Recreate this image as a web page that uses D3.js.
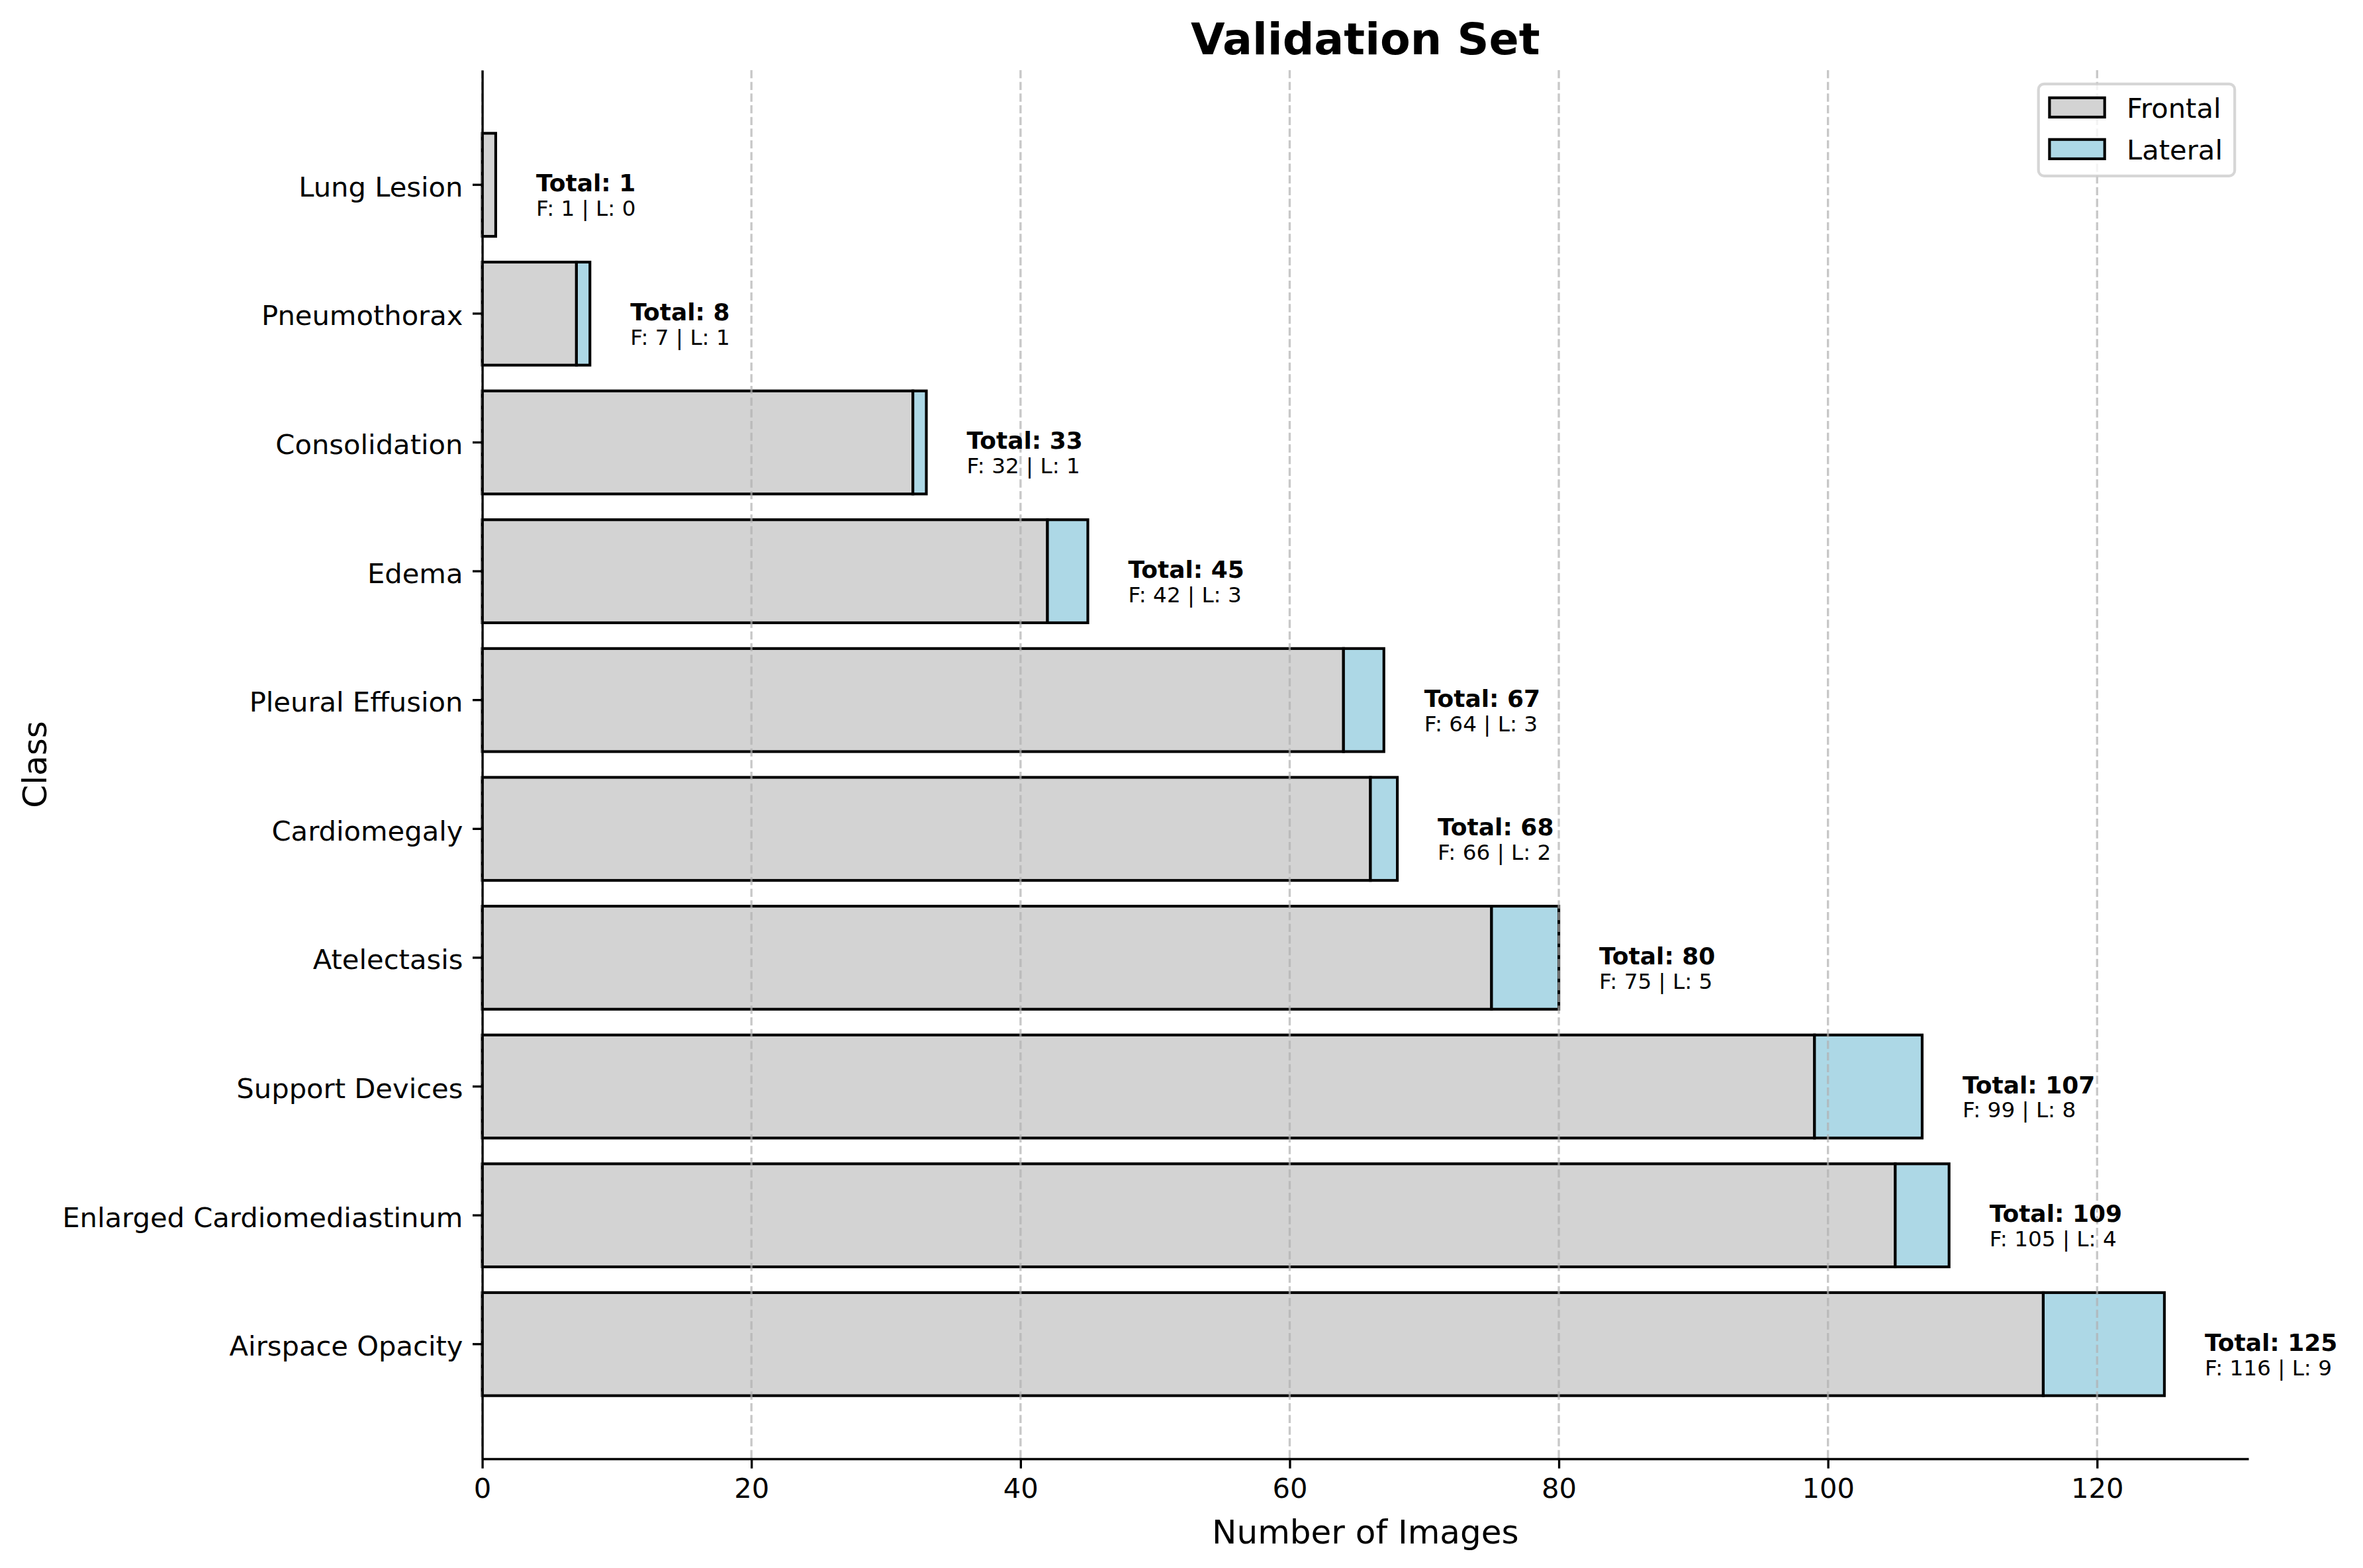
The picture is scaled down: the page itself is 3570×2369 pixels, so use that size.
<!DOCTYPE html>
<html><head><meta charset="utf-8">
<script src="https://cdn.jsdelivr.net/npm/d3@7"></script>
<style>
html,body{margin:0;padding:0;background:#fff;}
svg{display:block;}
text{font-family:"DejaVu Sans","Liberation Sans",sans-serif;fill:#000;}
</style>
</head><body>
<svg id="chart" width="3570" height="2369"></svg>
<script>
// ---- data ----
const categories = ["Lung Lesion","Pneumothorax","Consolidation","Edema","Pleural Effusion","Cardiomegaly","Atelectasis","Support Devices","Enlarged Cardiomediastinum","Airspace Opacity"];
const frontal = [1,7,32,42,64,66,75,99,105,116];
const lateral = [0,1,1,3,3,2,5,8,4,9];
const xTicks = [0,20,40,60,80,100,120];
const seriesNames = ["Frontal","Lateral"];
const seriesColors = ["#d3d3d3","#add8e6"];
const titleText = "Validation Set";
const xLabelText = "Number of Images";
const yLabelText = "Class";

(function(){
// ---- layout ----
const axL = 728.6, axR = 3397, axT = 106, axB = 2204;
const pt = 300/72;
const svg = d3.select("#chart");

const totals = frontal.map((f,i)=>f+lateral[i]);
const xMax = d3.max(totals)*1.05;
const x = d3.scaleLinear().domain([0,xMax]).range([axL,axR]);
const y = d3.scaleBand().domain(categories).range([axT,axB]).paddingInner(0.2).paddingOuter(0.49);

// bars: frontal then lateral
const gBars = svg.append("g");
gBars.selectAll("rect.frontal").data(categories).join("rect")
  .attr("class","frontal")
  .attr("x", x(0)).attr("y", d=>y(d))
  .attr("width", (d,i)=>x(frontal[i])-x(0))
  .attr("height", y.bandwidth())
  .attr("fill", seriesColors[0]).attr("stroke","#000").attr("stroke-width",1*pt);
gBars.selectAll("rect.lateral").data(categories).join("rect")
  .attr("class","lateral")
  .attr("x", (d,i)=>x(frontal[i])).attr("y", d=>y(d))
  .attr("width", (d,i)=>x(frontal[i]+lateral[i])-x(frontal[i]))
  .attr("height", y.bandwidth())
  .attr("fill", seriesColors[1]).attr("stroke","#000").attr("stroke-width",1*pt);

// grid (above bars, like matplotlib default)
svg.append("g").selectAll("line").data(xTicks).join("line")
  .attr("x1",d=>x(d)).attr("x2",d=>x(d)).attr("y1",axT).attr("y2",axB)
  .attr("stroke","#b0b0b0").attr("stroke-opacity",0.7)
  .attr("stroke-width",0.8*pt).attr("stroke-dasharray",`${3.7*0.8*pt},${1.6*0.8*pt}`);

// axes
const fsTick = 10*pt;
const xAxis = svg.append("g").attr("transform",`translate(0,${axB})`)
  .call(d3.axisBottom(x).tickValues(xTicks).tickFormat(d3.format("d")).tickSize(3.5*pt).tickSizeOuter(0).tickPadding(3.5*pt));
const yAxis = svg.append("g").attr("transform",`translate(${axL},0)`)
  .call(d3.axisLeft(y).tickSize(3.5*pt).tickSizeOuter(0).tickPadding(3.5*pt));
[xAxis,yAxis].forEach(g=>{
  g.selectAll("path.domain").attr("stroke","#000").attr("stroke-width",0.8*pt);
  g.selectAll(".tick line").attr("stroke","#000").attr("stroke-width",0.8*pt);
  g.selectAll(".tick text").attr("font-size",fsTick).attr("font-family","DejaVu Sans").attr("fill","#000");
});
yAxis.selectAll(".tick text").attr("dy","0.42em");

// bar annotations
const ann = svg.append("g");
ann.selectAll("text.tot").data(categories).join("text")
  .attr("class","tot")
  .attr("x",(d,i)=>x(totals[i]+3))
  .attr("y",d=>y(d)+y.bandwidth()/2+10)
  .attr("font-size",9*pt*0.96).attr("font-weight","bold")
  .text((d,i)=>`Total: ${totals[i]}`);
ann.selectAll("text.det").data(categories).join("text")
  .attr("class","det")
  .attr("x",(d,i)=>x(totals[i]+3))
  .attr("y",d=>y(d)+y.bandwidth()/2+0.2*y.step()+8)
  .attr("font-size",8*pt*0.98)
  .text((d,i)=>`F: ${frontal[i]} | L: ${lateral[i]}`);

// title & labels
svg.append("text").attr("x",(axL+axR)/2).attr("y",81.7)
  .attr("text-anchor","middle").attr("font-size",16*pt).attr("font-weight","bold").text(titleText);
svg.append("text").attr("x",(axL+axR)/2).attr("y",2331.7)
  .attr("text-anchor","middle").attr("font-size",12*pt).text(xLabelText);
svg.append("text").attr("transform",`translate(70,${(axT+axB)/2}) rotate(-90)`)
  .attr("text-anchor","middle").attr("font-size",12*pt).text(yLabelText);

// legend
const fsL = 10*pt;
const legW = (0.8+2+0.8)*fsL + 3.515*fsL;
const legX = axR - 0.5*fsL - legW, legY = axT + 0.5*fsL;
const legH = 139;
const leg = svg.append("g");
leg.append("rect").attr("x",legX).attr("y",legY).attr("width",legW).attr("height",legH)
  .attr("rx",0.2*fsL).attr("ry",0.2*fsL)
  .attr("fill","#fff").attr("fill-opacity",0.8)
  .attr("stroke","#cccccc").attr("stroke-opacity",0.8).attr("stroke-width",1*pt);
const rowCenters = [legY+35.5, legY+98.5];
seriesNames.forEach((name,k)=>{
  leg.append("rect").attr("x",legX+0.4*fsL).attr("y",rowCenters[k]-0.35*fsL)
    .attr("width",2*fsL).attr("height",0.7*fsL)
    .attr("fill",seriesColors[k]).attr("stroke","#000").attr("stroke-width",1*pt);
  leg.append("text").attr("x",legX+0.4*fsL+2*fsL+0.8*fsL).attr("y",rowCenters[k]+0.365*fsL)
    .attr("font-size",fsL).text(name);
});
})();
</script>
</body></html>
